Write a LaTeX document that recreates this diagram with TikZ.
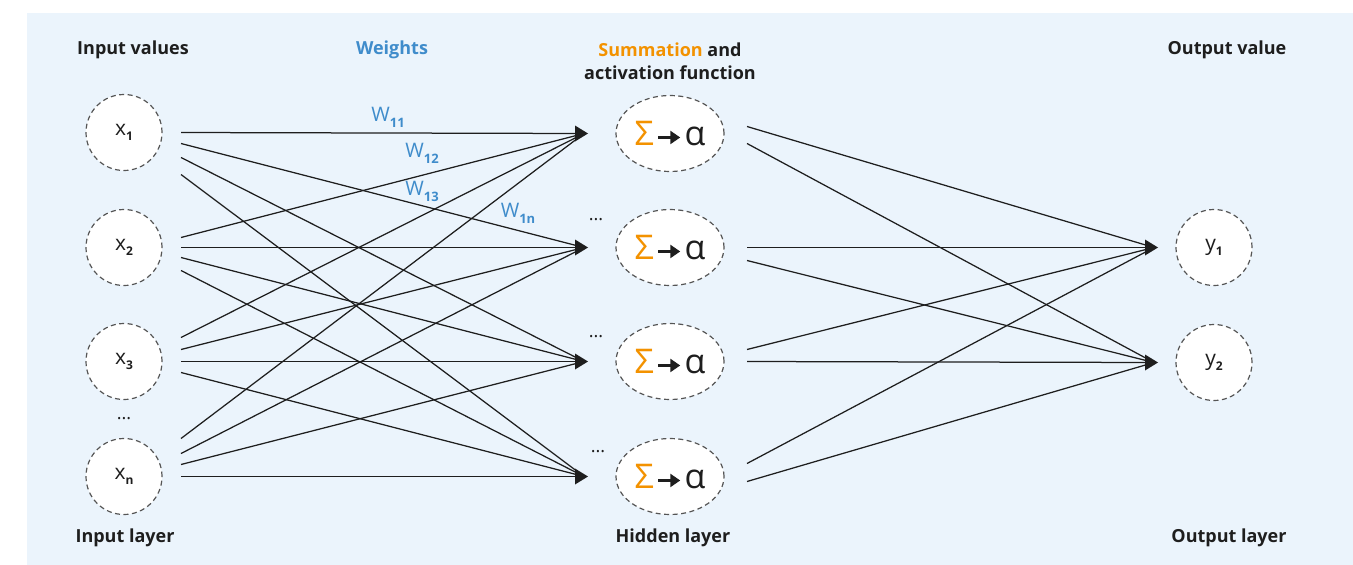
\documentclass[tikz,border=0pt]{standalone}
\usepackage{fontspec}
\setmainfont{Open Sans}
\usetikzlibrary{shapes.geometric,calc,arrows.meta}
\definecolor{bgblue}{HTML}{EBF4FC}
\definecolor{wblue}{HTML}{3F8CCB}
\definecolor{sumorange}{HTML}{F39200}
\definecolor{inkdark}{HTML}{1E1E1E}
\definecolor{rimgray}{HTML}{555555}
\newcommand{\sub}[1]{\raisebox{-0.22em}{\fontsize{12}{12}\selectfont\bfseries #1}}
\newcommand{\wsub}[1]{\raisebox{-0.3em}{\fontsize{13}{13}\selectfont\bfseries #1}}
\newcommand{\maparrow}{\tikz[baseline=-8pt,x=1pt,y=1pt]\draw[inkdark,line width=2.6pt,-{Triangle[length=10pt,width=13pt]}] (0,0) -- (22,0);}
\newcommand{\sumact}{{\color{sumorange}Σ}\hspace{3pt}\maparrow\hspace{3pt}α}

\begin{document}
\begin{tikzpicture}[x=1pt,y=-1pt,
  unit/.style={circle,draw=rimgray,fill=white,line width=1.2pt,
    dash pattern=on 5pt off 3.5pt,minimum size=76pt,inner sep=0pt,
    font=\fontsize{21}{22}\selectfont,text=inkdark},
  hunit/.style={ellipse,draw=rimgray,fill=white,line width=1.2pt,
    dash pattern=on 5pt off 3.5pt,minimum width=108pt,minimum height=76pt,
    inner sep=0pt,font=\fontsize{34}{36}\selectfont,text=inkdark},
  head/.style={font=\bfseries\fontsize{18}{23}\selectfont,text=inkdark,align=center},
  wlabel/.style={text=wblue,font=\fontsize{20}{22}\selectfont},
  dots/.style={font=\fontsize{18}{20}\selectfont,text=inkdark},
  wire/.style={draw=inkdark,line width=1.25pt},
  tiphead/.style={fill=inkdark}
]
% canvas
\useasboundingbox (0,0) rectangle (1353,565);
\fill[bgblue] (27,13) rectangle (1353,565);

% headings
\node[head] (hin)  at (133,50) {Input values};
\node[head,text=wblue] (hw) at (392,50) {Weights};
\node[head] (hsum) at (670,61) {\textcolor{sumorange}{Summation} and\\activation function};
\node[head] (hout) at (1227,50) {Output value};
\node[head] (lin)  at (125,538) {Input layer};
\node[head] (lhid) at (673,538) {Hidden layer};
\node[head] (lout) at (1229,538) {Output layer};

% input layer
\node[unit] (x1) at (124,132.5) {x\sub{1}};
\node[unit] (x2) at (124,247.5) {x\sub{2}};
\node[unit] (x3) at (124,361.5) {x\sub{3}};
\node[unit] (xn) at (124,476.5) {x\sub{n}};
\node[dots] (xd) at (124,419) {...};

% hidden layer
\node[hunit] (h1) at (670,133.5) {\sumact};
\node[hunit] (h2) at (670,247.5) {\sumact};
\node[hunit] (h3) at (670,361.5) {\sumact};
\node[hunit] (h4) at (670,476.5) {\sumact};
\node[dots] (hd2) at (596,220) {...};
\node[dots] (hd3) at (596,337) {...};
\node[dots] (hd4) at (598,452) {...};

% output layer
\node[unit] (y1) at (1214,247.5) {y\sub{1}};
\node[unit] (y2) at (1214,362.5) {y\sub{2}};

% arrow tips in front of the receiving units
\foreach \h in {h1,h2,h3,h4} \coordinate (t\h) at ($(\h.center)+(-82,0)$);
\foreach \o in {y1,y2} \coordinate (t\o) at ($(\o.center)+(-56,0)$);

% input -> hidden connections (start offsets per target)
\foreach \x/\a/\b/\c/\d in {x1/0/11/25/42, x2/-10/0/10/23, x3/-24/-12/0/11, xn/-38/-23/-12/0}{
  \draw[wire] ($(\x.center)+(57,\a)$) -- ($(th1)+(-4,0)$);
  \draw[wire] ($(\x.center)+(57,\b)$) -- ($(th2)+(-4,0)$);
  \draw[wire] ($(\x.center)+(57,\c)$) -- ($(th3)+(-4,0)$);
  \draw[wire] ($(\x.center)+(57,\d)$) -- ($(th4)+(-4,0)$);
}

% hidden -> output connections
\foreach \h/\a/\b in {h1/-7/10, h2/0/13, h3/-12/0, h4/-13/5}{
  \draw[wire] ($(\h.center)+(77,\a)$) -- ($(ty1)+(-4,0)$);
  \draw[wire] ($(\h.center)+(77,\b)$) -- ($(ty2)+(-4,0)$);
}

% shared arrowheads
\foreach \t in {th1,th2,th3,th4,ty1,ty2}
  \fill[tiphead] (\t) -- ++(-13,-8) -- ++(0,16) -- cycle;

% weight labels
\node[wlabel] (w11) at (388,117) {W\wsub{11}};
\node[wlabel] (w12) at (422,153) {W\wsub{12}};
\node[wlabel] (w13) at (422,191) {W\wsub{13}};
\node[wlabel] (w1n) at (518,213) {W\wsub{1n}};
\end{tikzpicture}
\end{document}
